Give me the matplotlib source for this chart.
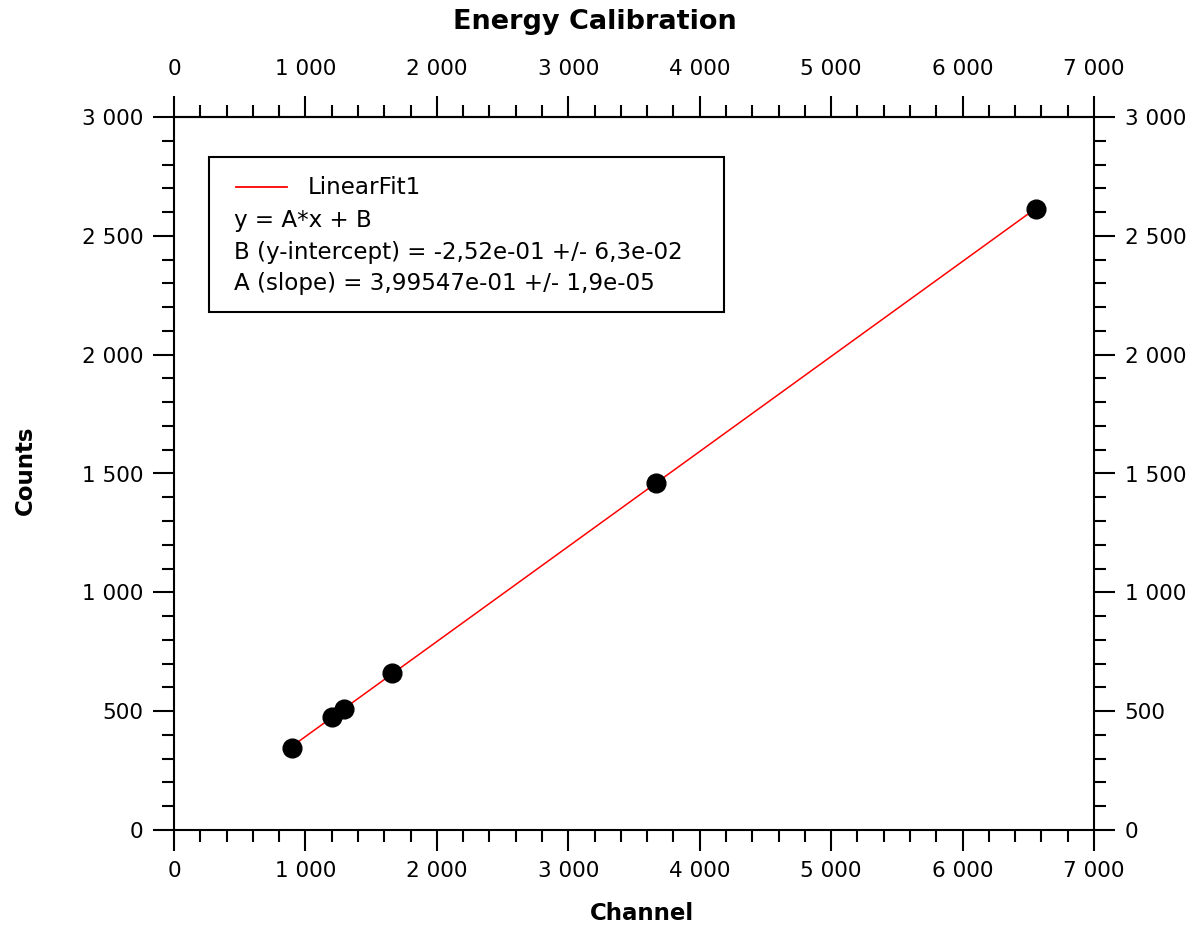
import matplotlib
matplotlib.use("Agg")
import matplotlib.pyplot as plt
import numpy as np
from matplotlib.ticker import MultipleLocator, FixedLocator, FuncFormatter
from matplotlib.patches import Rectangle
from matplotlib.lines import Line2D

channel = [899, 1203, 1293, 1659, 3667, 6558]
counts = [344, 477, 511, 662, 1461, 2614]
x_ticks = [0, 1000, 2000, 3000, 4000, 5000, 6000, 7000]
y_ticks = [0, 500, 1000, 1500, 2000, 2500, 3000]
legend_lines = ["LinearFit1", "y = A*x + B",
                "B (y-intercept) = -2,52e-01 +/- 6,3e-02",
                "A (slope) = 3,99547e-01 +/- 1,9e-05"]

plt.rcParams['font.family'] = ['DejaVu Sans']
W, H = 1192, 930
fig = plt.figure(figsize=(W/100, H/100), dpi=100)
L, R, T, B = 174, 1094, 117, 830
ax = fig.add_axes([L/W, 1-B/H, (R-L)/W, (B-T)/H])

coef = np.polyfit(channel, counts, 1)
xf = np.array([min(channel), max(channel)])
ax.plot(xf, np.polyval(coef, xf), color='red', lw=1.1, zorder=2)
ax.plot(channel, counts, 'o', color='black', ms=13.5, zorder=3)

ax.set_xlim(x_ticks[0], x_ticks[-1])
ax.set_ylim(y_ticks[0], y_ticks[-1])
fmt = FuncFormatter(lambda v, p: f"{int(round(v)):,}".replace(",", " "))

ax.xaxis.set_major_locator(FixedLocator(x_ticks))
ax.xaxis.set_minor_locator(MultipleLocator(200))
ax.yaxis.set_major_locator(FixedLocator(y_ticks))
ax.yaxis.set_minor_locator(MultipleLocator(100))
ax.xaxis.set_major_formatter(fmt)
ax.yaxis.set_major_formatter(fmt)
LS = 15.5
ax.tick_params(which='both', direction='out', top=False, right=True,
               labelright=True, width=1.5, labelsize=LS)
ax.tick_params(which='major', length=15, pad=7)
ax.tick_params(which='minor', length=8.5)
ax.tick_params(axis='x', which='major', pad=7)

top = ax.secondary_xaxis('top')
top.xaxis.set_major_locator(FixedLocator(x_ticks))
top.xaxis.set_minor_locator(MultipleLocator(200))
top.xaxis.set_major_formatter(fmt)
top.tick_params(which='both', direction='out', width=1.5, labelsize=LS)
top.tick_params(which='major', length=15, pad=12)
top.tick_params(which='minor', length=8.5)
top.spines['top'].set_linewidth(1.5)

for s in ax.spines.values():
    s.set_linewidth(1.5)

fig.text(642/W, 1-913/H, "Channel", fontsize=16.5, fontweight='bold',
         ha='center', va='center')
fig.text(25/W, 1-470/H, "Counts", fontsize=16.5, fontweight='bold',
         ha='center', va='center', rotation=90)
fig.text(595/W, 1-22/H, "Energy Calibration", fontsize=19.5, fontweight='bold',
         ha='center', va='center')

# legend box
def axx(px):
    return (px - L) / (R - L)

def axy(py):
    return (B - py) / (B - T)

ax.add_patch(Rectangle((axx(209), axy(312)), axx(724)-axx(209), axy(157)-axy(312),
                       transform=ax.transAxes, fill=False, edgecolor='black',
                       lw=1.5, zorder=4))
ly = [axy(187), axy(220), axy(252), axy(283)]
LF = 16.6
ax.add_line(Line2D([axx(236), axx(287)], [ly[0], ly[0]],
                   transform=ax.transAxes, color='red', lw=1.3))
ax.text(axx(308), ly[0], legend_lines[0], transform=ax.transAxes,
        va='center', ha='left', fontsize=LF)
for t, yy in zip(legend_lines[1:], ly[1:]):
    ax.text(axx(234), yy, t, transform=ax.transAxes,
            va='center', ha='left', fontsize=LF)

fig.savefig("out.png", dpi=100)
